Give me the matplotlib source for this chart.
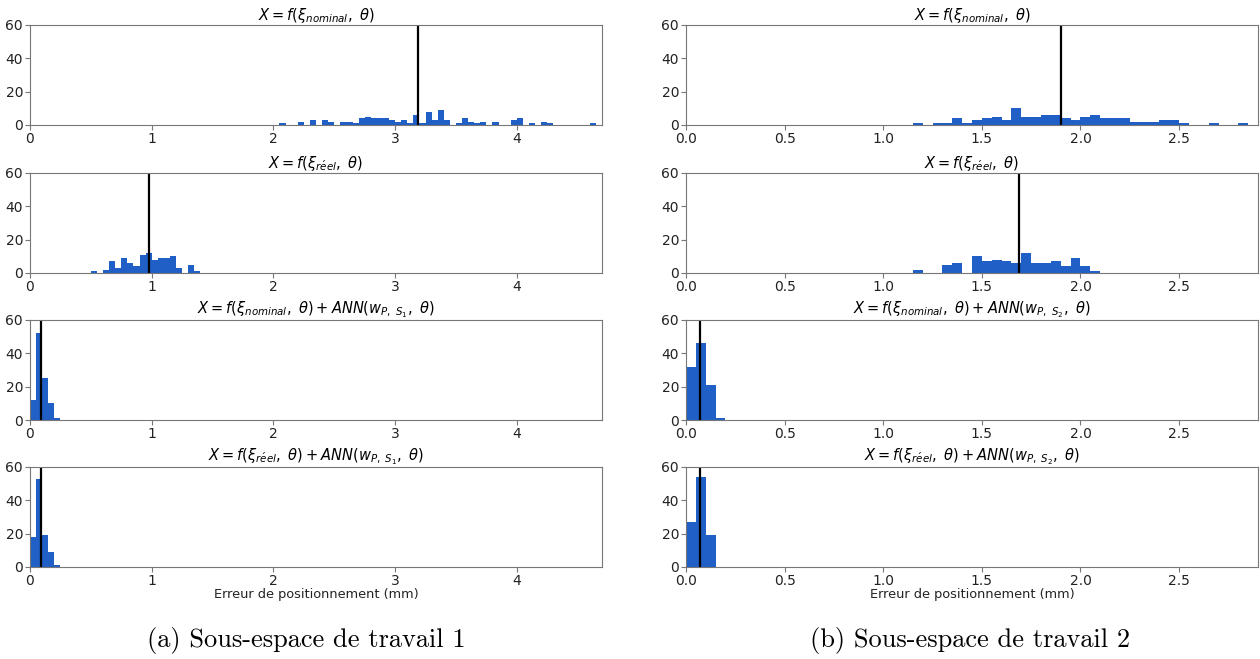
import numpy as np
from matplotlib import pyplot as plt

# bin width used for every histogram (mm)
bin_w = 0.05

# sub-space 1 (left column): bin starts (mm) and counts
l1_bins = [2.05, 2.20, 2.30, 2.40, 2.45, 2.55, 2.60, 2.65, 2.70, 2.75, 2.80, 2.85,
           2.90, 2.95, 3.00, 3.05, 3.10, 3.15, 3.20, 3.25, 3.30, 3.35, 3.40, 3.50,
           3.55, 3.60, 3.65, 3.70, 3.80, 3.95, 4.00, 4.10, 4.20, 4.25, 4.60]
l1_counts = [1, 2, 3, 3, 2, 2, 2, 1, 4, 5, 4, 4, 4, 3, 2, 3, 1, 6, 1, 8, 3, 9, 3, 1,
             4, 2, 1, 2, 2, 3, 4, 1, 2, 1, 1]
l2_bins = [0.50, 0.60, 0.65, 0.70, 0.75, 0.80, 0.85, 0.90, 0.95, 1.00, 1.05, 1.10,
           1.15, 1.20, 1.30, 1.35]
l2_counts = [1, 2, 7, 3, 9, 6, 4, 11, 12, 8, 9, 9, 10, 3, 5, 1]
l3_bins = [0.00, 0.05, 0.10, 0.15, 0.20]
l3_counts = [12, 52, 25, 10, 1]
l4_bins = [0.00, 0.05, 0.10, 0.15, 0.20]
l4_counts = [18, 53, 19, 9, 1]
left_means = [3.19, 0.98, 0.09, 0.09]

# sub-space 2 (right column)
r1_bins = [1.15, 1.25, 1.30, 1.35, 1.40, 1.45, 1.50, 1.55, 1.60, 1.65, 1.70, 1.75,
           1.80, 1.85, 1.90, 1.95, 2.00, 2.05, 2.10, 2.15, 2.20, 2.25, 2.30, 2.35,
           2.40, 2.45, 2.50, 2.65, 2.80]
r1_counts = [1, 1, 1, 4, 1, 3, 4, 5, 3, 10, 5, 5, 6, 6, 4, 3, 5, 6, 4, 4, 4, 2, 2, 2,
             3, 3, 1, 1, 1]
r2_bins = [1.15, 1.30, 1.35, 1.45, 1.50, 1.55, 1.60, 1.65, 1.70, 1.75, 1.80, 1.85,
           1.90, 1.95, 2.00, 2.05]
r2_counts = [2, 5, 6, 10, 7, 8, 7, 6, 12, 6, 6, 7, 4, 9, 4, 1]
r3_bins = [0.00, 0.05, 0.10, 0.15]
r3_counts = [32, 46, 21, 1]
r4_bins = [0.00, 0.05, 0.10]
r4_counts = [27, 54, 19]
right_means = [1.90, 1.69, 0.07, 0.07]

titles_l = [r'$X = f(\xi_{nominal},\ \theta)$',
            r'$X = f(\xi_{r\acute{e}el},\ \theta)$',
            r'$X = f(\xi_{nominal},\ \theta) + ANN(w_{P,\ S_1},\ \theta)$',
            r'$X = f(\xi_{r\acute{e}el},\ \theta) + ANN(w_{P,\ S_1},\ \theta)$']
titles_r = [t.replace('S_1', 'S_2') for t in titles_l]

bar_color = '#1f5fc6'
W, H = 1260, 659
fig = plt.figure(figsize=(W / 100, H / 100), dpi=100)

rows = [(25, 125), (173, 273), (320, 420), (467, 567)]
cols = [(30, 602), (686, 1258)]


def make_ax(x0, x1, y0, y1):
    return fig.add_axes([x0 / W, 1 - y1 / H, (x1 - x0) / W, (y1 - y0) / H])


left_data = [(l1_bins, l1_counts), (l2_bins, l2_counts), (l3_bins, l3_counts), (l4_bins, l4_counts)]
right_data = [(r1_bins, r1_counts), (r2_bins, r2_counts), (r3_bins, r3_counts), (r4_bins, r4_counts)]

for c, (data, means, titles, xmax, ticks) in enumerate([
        (left_data, left_means, titles_l, 4.7, [0, 1, 2, 3, 4]),
        (right_data, right_means, titles_r, 2.9, [0.0, 0.5, 1.0, 1.5, 2.0, 2.5])]):
    edges = np.arange(0, xmax + bin_w, bin_w)
    for r in range(4):
        ax = make_ax(cols[c][0], cols[c][1], rows[r][0], rows[r][1])
        b, n = data[r]
        ax.hist(np.array(b) + bin_w / 2, bins=edges, weights=n, color=bar_color)
        ax.axvline(means[r], color='black', lw=1.6)
        ax.set_xlim(0, xmax)
        ax.set_ylim(0, 60)
        ax.set_yticks([0, 20, 40, 60])
        ax.set_xticks(ticks)
        if c == 1:
            ax.set_xticklabels(['%.1f' % t for t in ticks])
        ax.set_title(titles[r], fontsize=10.5, pad=3)
        for s in ax.spines.values():
            s.set_color('#777777')
        ax.tick_params(labelsize=10, colors='#777777', labelcolor='#222222', length=3.5, pad=1.5)
        if r == 3:
            ax.set_xlabel('Erreur de positionnement (mm)', fontsize=9.3, color='#222222', labelpad=0)

fig.text(306 / W, 1 - 640 / H, '(a) Sous-espace de travail 1', family='cmr10', fontsize=19,
         ha='center', va='center')
fig.text(970 / W, 1 - 640 / H, '(b) Sous-espace de travail 2', family='cmr10', fontsize=19,
         ha='center', va='center')

fig.savefig('out.png', dpi=100)
